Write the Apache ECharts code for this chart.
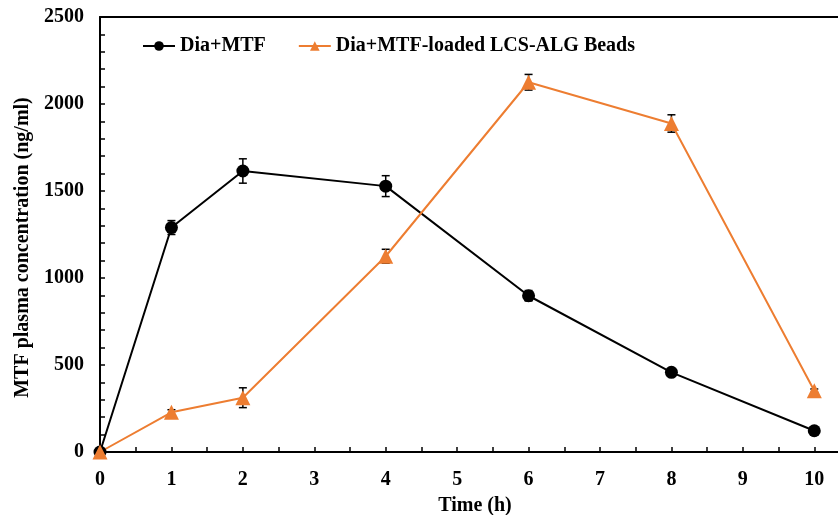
<!DOCTYPE html>
<html>
<head>
<meta charset="utf-8">
<script src="https://cdn.jsdelivr.net/npm/echarts@6/dist/echarts.min.js"></script>
<style>
  html, body { margin: 0; padding: 0; background: #fff; }
  #chart { width: 838px; height: 515px; }
</style>
</head>
<body>
<div id="chart"></div>
<script>
// sampling times (h)
const times = [0, 1, 2, 4, 6, 8, 10]
// Dia+MTF
const diaMtf = [0, 1290, 1615, 1528, 898, 458, 122]
const diaMtfErr = [0, 40, 70, 60, 30, 15, 10]
// Dia+MTF-loaded LCS-ALG Beads
const beads = [0, 228, 312, 1125, 2125, 1888, 352]
const beadsErr = [0, 15, 57, 40, 45, 50, 10]
const seriesNames = ['Dia+MTF', 'Dia+MTF-loaded LCS-ALG Beads']

const serif = "'Liberation Serif', 'Times New Roman', serif"
const orange = '#ED7D31'
const fs = 20

// 把值和误差拼成 [x, low, high]
function errData (vals, errs) {
  return times.map((t, i) => [t, vals[i] - errs[i], vals[i] + errs[i]])
}

function errSeries (vals, errs) {
  return {
    type: 'custom',
    silent: true,
    z: 3,
    data: errData(vals, errs),
    renderItem (params, api) {
      const x = api.value(0)
      const lo = api.coord([x, api.value(1)])
      const hi = api.coord([x, api.value(2)])
      const cap = 4
      const style = { stroke: '#000', lineWidth: 1.5 }
      return {
        type: 'group',
        children: [
          { type: 'line', shape: { x1: lo[0], y1: lo[1], x2: hi[0], y2: hi[1] }, style },
          { type: 'line', shape: { x1: hi[0] - cap, y1: hi[1], x2: hi[0] + cap, y2: hi[1] }, style },
          { type: 'line', shape: { x1: lo[0] - cap, y1: lo[1], x2: lo[0] + cap, y2: lo[1] }, style }
        ]
      }
    }
  }
}

const chart = echarts.init(document.getElementById('chart'))
chart.setOption({
  animation: false,
  textStyle: { fontFamily: serif },
  grid: { left: 100, top: 17, right: -12, bottom: 63, outerBoundsMode: 'none' },
  legend: {
    data: seriesNames,
    left: 142,
    top: 36,
    padding: 0,
    itemWidth: 32,
    itemHeight: 12,
    itemGap: 32,
    textStyle: { fontFamily: serif, fontWeight: 'bold', fontSize: fs, color: '#000' }
  },
  xAxis: [
    {
      type: 'value',
      min: 0,
      max: 10.5,
      interval: 1,
      name: 'Time (h)',
      nameLocation: 'middle',
      nameGap: 44,
      nameTextStyle: { fontFamily: serif, fontWeight: 'bold', fontSize: fs, color: '#000' },
      axisLine: { lineStyle: { color: '#000', width: 2 } },
      axisTick: { inside: true, length: 5, lineStyle: { color: '#000', width: 1.5 } },
      minorTick: { show: true, splitNumber: 2, length: 5, lineStyle: { color: '#000', width: 1.5 } },
      axisLabel: {
        margin: 18,
        fontFamily: serif,
        fontWeight: 'bold',
        fontSize: fs,
        color: '#000',
        formatter: v => (Number.isInteger(v) ? String(v) : '')
      },
      splitLine: { show: false }
    },
    {
      type: 'value',
      position: 'top',
      min: 0,
      max: 10.5,
      axisLine: { show: true, lineStyle: { color: '#000', width: 2 } },
      axisTick: { show: false },
      axisLabel: { show: false },
      splitLine: { show: false }
    }
  ],
  yAxis: {
    type: 'value',
    min: 0,
    max: 2500,
    interval: 500,
    name: 'MTF plasma concentration (ng/ml)',
    nameLocation: 'middle',
    nameGap: 62,
    nameTextStyle: { fontFamily: serif, fontWeight: 'bold', fontSize: fs, color: '#000', padding: [0, 26, 0, 0] },
    axisLine: { show: true, lineStyle: { color: '#000', width: 2 } },
    axisTick: { show: true, inside: true, length: 5, lineStyle: { color: '#000', width: 1.5 } },
    minorTick: { show: true, splitNumber: 5, length: 5, lineStyle: { color: '#000', width: 1.5 } },
    axisLabel: {
      margin: 16,
      fontFamily: serif,
      fontWeight: 'bold',
      fontSize: fs,
      color: '#000',
      formatter: v => String(v)
    },
    splitLine: { show: false }
  },
  series: [
    {
      name: seriesNames[0],
      type: 'line',
      data: times.map((t, i) => [t, diaMtf[i]]),
      symbol: 'circle',
      symbolSize: 13,
      z: 4,
      lineStyle: { color: '#000', width: 2 },
      itemStyle: { color: '#000' }
    },
    {
      name: seriesNames[1],
      type: 'line',
      data: times.map((t, i) => [t, beads[i]]),
      symbol: 'triangle',
      symbolSize: 15,
      z: 4,
      lineStyle: { color: orange, width: 2 },
      itemStyle: { color: orange }
    },
    errSeries(diaMtf, diaMtfErr),
    errSeries(beads, beadsErr)
  ]
})
</script>
</body>
</html>
